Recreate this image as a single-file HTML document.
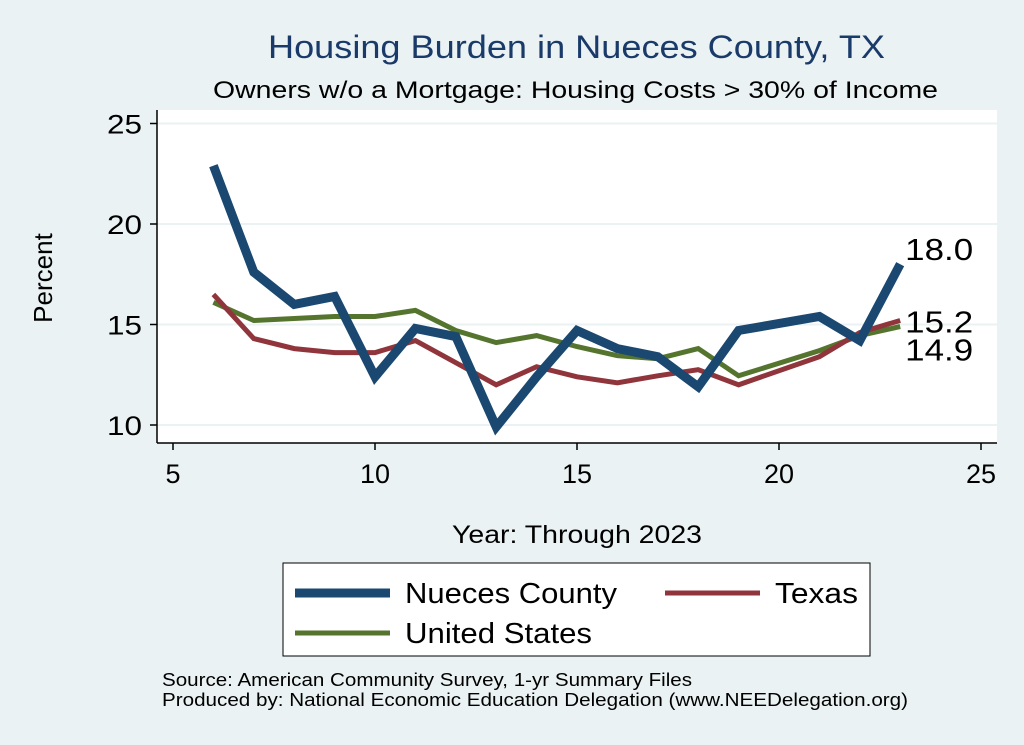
<!DOCTYPE html>
<html><head><meta charset="utf-8"><style>
body{margin:0;background:#eaf2f3;}
svg{display:block;font-family:"Liberation Sans",sans-serif;}
</style></head><body>
<svg width="1024" height="745" viewBox="0 0 1024 745">
<rect x="0" y="0" width="1024" height="745" fill="#eaf2f3"/>
<text x="268" y="58" font-size="32" fill="#1a3a6a" textLength="617" lengthAdjust="spacingAndGlyphs">Housing Burden in Nueces County, TX</text>
<text x="213" y="98" font-size="24" fill="#000" textLength="725" lengthAdjust="spacingAndGlyphs">Owners w/o a Mortgage: Housing Costs &gt; 30% of Income</text>
<rect x="157" y="110" width="840" height="333" fill="#fff"/>
<g id="grid"></g>
<line x1="157" y1="110" x2="157" y2="443" stroke="#000" stroke-width="1.5"/>
<line x1="157" y1="443" x2="997" y2="443" stroke="#000" stroke-width="1.5"/>
<g id="ticks"></g>
<g id="series"></g>
<text x="52" y="278" text-anchor="middle" font-size="26" transform="rotate(-90 52 278)">Percent</text>
<text x="452" y="543" font-size="25" textLength="250" lengthAdjust="spacingAndGlyphs">Year: Through 2023</text>
<g>
<rect x="283" y="563" width="587" height="93" fill="#fff" stroke="#000" stroke-width="1"/>
<line x1="295" y1="593" x2="390" y2="593" stroke="#1a4870" stroke-width="9"/>
<text x="405" y="603" font-size="29" textLength="212" lengthAdjust="spacingAndGlyphs">Nueces County</text>
<line x1="665" y1="593" x2="760" y2="593" stroke="#90353b" stroke-width="5"/>
<text x="775" y="603" font-size="29" textLength="83" lengthAdjust="spacingAndGlyphs">Texas</text>
<line x1="295" y1="633" x2="390" y2="633" stroke="#55752f" stroke-width="5"/>
<text x="405" y="643" font-size="29" textLength="187" lengthAdjust="spacingAndGlyphs">United States</text>
</g>
<text x="162" y="686" font-size="18" textLength="530" lengthAdjust="spacingAndGlyphs">Source: American Community Survey, 1-yr Summary Files</text>
<text x="162" y="706" font-size="18" textLength="746" lengthAdjust="spacingAndGlyphs">Produced by: National Economic Education Delegation (www.NEEDelegation.org)</text>
</svg>
<script>
const years=[6,7,8,9,10,11,12,13,14,15,16,17,18,19,21,22,23];
const nueces=[22.9,17.6,16.0,16.4,12.4,14.8,14.4,9.9,12.4,14.7,13.8,13.4,11.9,14.7,15.4,14.2,18.0];
const texas=[16.5,14.3,13.8,13.6,13.6,14.2,13.1,12.0,12.9,12.4,12.1,12.45,12.75,12.0,13.4,14.6,15.2];
const us=[16.1,15.2,15.3,15.4,15.4,15.7,14.7,14.1,14.45,13.9,13.45,13.3,13.8,12.45,13.7,14.45,14.9];
const xTicks=[5,10,15,20,25];
const yTicks=[10,15,20,25];
const NS="http://www.w3.org/2000/svg";
function X(v){return 173+(v-5)*40.4;}
function Y(v){return 425-(v-10)*20.1;}
function mk(t,a,p){const e=document.createElementNS(NS,t);for(const k in a)e.setAttribute(k,a[k]);p.appendChild(e);return e;}
const grid=document.getElementById('grid'),ticks=document.getElementById('ticks'),ser=document.getElementById('series');
yTicks.forEach(v=>{
 const g=mk('line',{x1:157,x2:997,y1:Y(v),y2:Y(v),stroke:'#eaf2f3','stroke-width':2},grid);
 
 
 const t=mk('line',{x1:150,x2:157,y1:Y(v),y2:Y(v),stroke:'#000','stroke-width':1.5},ticks);
 
 
 const l=mk('text',{x:142,y:Y(v)+10,'text-anchor':'end','font-size':27,textLength:35,lengthAdjust:'spacingAndGlyphs'},ticks);l.textContent=v;
 
 
});
xTicks.forEach(v=>{
 const t=mk('line',{x1:X(v),x2:X(v),y1:443,y2:450,stroke:'#000','stroke-width':1.5},ticks);
 
 
 const l=mk('text',{x:X(v),y:483,'text-anchor':'middle','font-size':27},ticks);l.textContent=v;
 
 
});
function line(vals,color,w,name){
 const d=vals.map((v,i)=>(i?'L':'M')+X(years[i]).toFixed(1)+' '+Y(v).toFixed(1)).join(' ');
 const p=mk('path',{d:d,fill:'none',stroke:color,'stroke-width':w,'stroke-linejoin':'miter'},ser);
 
 
}
line(us,'#55752f',5,'line-united-states');
line(texas,'#90353b',5,'line-texas');
line(nueces,'#1a4870',9,'line-nueces-county');
const n=years.length-1;
[[nueces,-4,'label-nueces-last'],[texas,12,'label-texas-last'],[us,34,'label-us-last']].forEach(([arr,dy,nm])=>{
 const l=mk('text',{x:X(years[n])+5,y:Y(arr[n])+dy,'font-size':31,textLength:68,lengthAdjust:'spacingAndGlyphs'},ser);
 l.textContent=arr[n].toFixed(1);
 
 
});
</script>
</body></html>
